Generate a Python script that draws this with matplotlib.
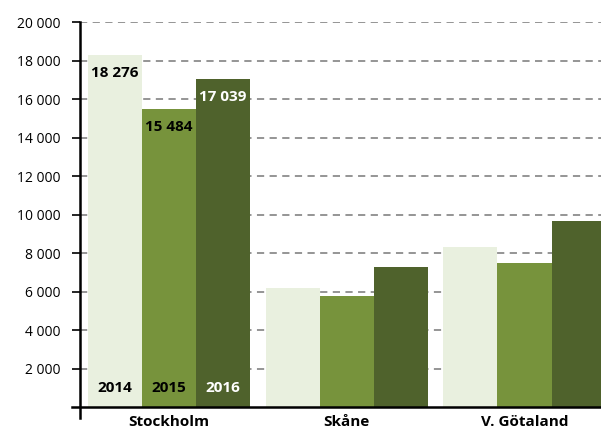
import matplotlib.pyplot as plt
import numpy as np

regions = ["Stockholm", "Skåne", "V. Götaland"]
years = ["2014", "2015", "2016"]
values = {
    "2014": [18276, 6180, 8310],
    "2015": [15484, 5770, 7500],
    "2016": [17039, 7260, 9650],
}
colors = {"2014": "#E9F0DF", "2015": "#77933C", "2016": "#4F622C"}
text_colors = {"2014": "black", "2015": "black", "2016": "white"}

plt.rcParams['font.family'] = ['Open Sans', 'DejaVu Sans']
FW = 'bold'
FS = 11

fig = plt.figure(figsize=(6.01, 4.34), dpi=100)
ax = fig.add_axes([0.133, 0.062, 0.867, 0.887])

x = np.arange(len(regions))
w = 0.304
for i, yr in enumerate(years):
    pos = x + (i - 1) * w
    ax.bar(pos, values[yr], width=w, color=colors[yr], zorder=2)
    # value label only on Stockholm, year label at bottom of Stockholm
    ax.annotate(f"{values[yr][0]:,}".replace(",", " "), (pos[0], values[yr][0]),
                xytext=(0, -13), textcoords='offset points', ha='center', va='center',
                fontsize=FS, fontweight=FW, color=text_colors[yr], zorder=3)
    ax.annotate(yr, (pos[0], 0), xytext=(0, 14), textcoords='offset points',
                ha='center', va='center', fontsize=FS, fontweight=FW,
                color=text_colors[yr], zorder=3)

ax.set_xlim(-0.5, 2.43)
ax.set_ylim(0, 20000)
yt = np.arange(2000, 20001, 2000)
ax.set_yticks(yt)
ax.set_yticklabels([f"{v:,}".replace(",", " ") for v in yt], fontsize=FS, fontweight=FW)
ax.set_xticks(x)
ax.set_xticklabels(regions, fontsize=FS, fontweight=FW)
ax.tick_params(axis='x', length=0, pad=6)
ax.tick_params(axis='y', length=6, width=1.2, direction='out', pad=8)

for v in yt:
    ax.axhline(v, color='#8C8C8C', linestyle=(0, (4, 3)), linewidth=1.3, zorder=1)

for s in ['top', 'right']:
    ax.spines[s].set_visible(False)
ax.spines['left'].set_linewidth(1.8)
ax.spines['bottom'].set_linewidth(1.8)
ax.spines['left'].set_bounds(-550, 20000)
ax.spines['bottom'].set_bounds(-0.545, 2.43)
ax.spines['left'].set_position(('data', -0.5))
ax.set_clip_on(False)

plt.savefig('out.png', dpi=100)
